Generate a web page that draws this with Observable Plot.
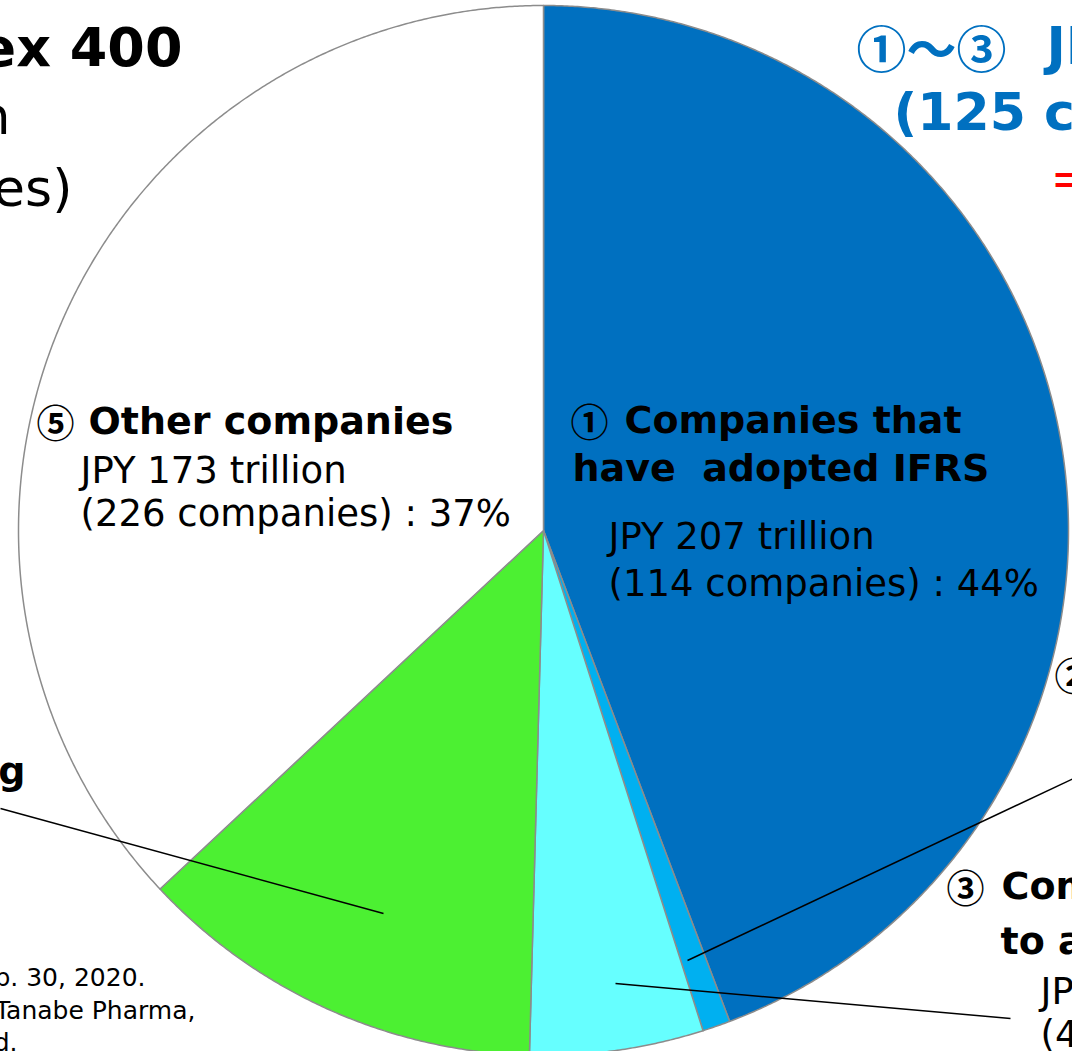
<!DOCTYPE html>
<html><head><meta charset="utf-8">
<script src="https://cdn.jsdelivr.net/npm/d3@7"></script>
<script src="https://cdn.jsdelivr.net/npm/@observablehq/plot@0.6"></script>
<style>body{margin:0;background:#fff;} svg{display:block;}</style>
</head><body><div id="chart"></div>
<script>
// ---- data ----
const categories = ["① Companies that have adopted IFRS", "② Companies that have decided to adopt IFRS", "③ Companies planning to adopt IFRS", "④ Companies considering adopting IFRS", "⑤ Other companies"];
const marketCapTrillion = [207, 4, 25, 59, 173];
const companyCounts = [114, 7, 4, 49, 226];
const sliceColors = ["#0070C0", "#00B0F0", "#66FFFF", "#4CF032", "#FFFFFF"];

// ---- geometry helpers (pixel -> data units of the pie frame) ----
const CX = 543, CY = 530, R = 525;
const X = px => (px - CX) / R;
const Y = py => (CY - py) / R;

const arcs = d3.pie().sort(null).value(d => d)(marketCapTrillion);
const slicePts = [];
arcs.forEach((a, i) => {
  slicePts.push({k: i, x: 0, y: 0, c: sliceColors[i]});
  const n = Math.max(2, Math.ceil((a.endAngle - a.startAngle) / 0.005));
  for (let j = 0; j <= n; j++) {
    const t = a.startAngle + (a.endAngle - a.startAngle) * j / n;
    slicePts.push({k: i, x: Math.sin(t), y: Math.cos(t), c: sliceColors[i]});
  }
});

const FONT = "DejaVu Sans, Verdana, sans-serif";
const CJK = "Noto Sans CJK JP, sans-serif";
function label(rows, o) {
  return Plot.text(rows, {
    x: d => X(d.px), y: d => Y(d.py), text: "t",
    textAnchor: o.anchor || "start", lineAnchor: "bottom",
    fontSize: o.size, fontWeight: o.weight || "normal",
    fill: o.color || "black", fontFamily: o.font || FONT
  });
}

const titleBold = [{px: 182, py: 65, t: "JPX-Nikkei Index 400"}];
const titleNormal = [{px: 10, py: 133, t: "Market capitalization"}, {px: 72, py: 205, t: "(400 companies)"}];
const blueMarks = [{px: 856, py: 67, t: "①～③"}];
const blueHead = [{px: 1046, py: 63, t: "JPY 236 trillion"}, {px: 893, py: 129, t: "(125 companies) : 50%"}];
const redNote = [{px: 1050, py: 194, t: "= about half"}];
const circled = [
  {px: 36, py: 436, t: categories[4].slice(0, 1)},
  {px: 570, py: 435, t: categories[0].slice(0, 1)},
  {px: 1054, py: 689, t: categories[1].slice(0, 1)},
  {px: 946, py: 901, t: categories[2].slice(0, 1)}
];
const boldLabels = [
  {px: 88, py: 433, t: "Other companies"},
  {px: 624, py: 432, t: "Companies that"},
  {px: 572, py: 480, t: "have  adopted IFRS"},
  {px: 1100, py: 686, t: "Companies that have decided"},
  {px: 1001, py: 898, t: "Companies planning"},
  {px: 1000, py: 953, t: "to adopt IFRS"}
];
const boldLabelsEnd = [{px: 25, py: 783, t: "④ Companies considering"}];
const normalLabels = [
  {px: 80, py: 482, t: `JPY ${marketCapTrillion[4]} trillion`},
  {px: 80, py: 525, t: `(${companyCounts[4]} companies) : 37%`},
  {px: 608, py: 548, t: `JPY ${marketCapTrillion[0]} trillion`},
  {px: 608, py: 595, t: `(${companyCounts[0]} companies) : 44%`},
  {px: 1040, py: 1003, t: `JPY ${marketCapTrillion[2]} trillion`},
  {px: 1040, py: 1046, t: `(${companyCounts[2]} companies) : 5%`}
];
const footnotes = [
  {px: 145, py: 985, t: "Note: Market capitalization as of Sep. 30, 2020."},
  {px: 195, py: 1018, t: "Excluding Mitsubishi Tanabe Pharma,"},
  {px: 17, py: 1050, t: "which was delisted."}
];
const leaders = [
  {x1: 0, y1: 808, x2: 383, y2: 913},
  {x1: 687, y1: 960, x2: 1090, y2: 770},
  {x1: 615, y1: 983, x2: 1010, y2: 1018}
];

const chart = Plot.plot({
  width: 1072, height: 1051,
  margin: 0,
  x: {domain: [-1, 1], range: [CX - R, CX + R], axis: null},
  y: {domain: [-1, 1], range: [CY + R, CY - R], axis: null},
  color: {type: "identity"},
  style: {background: "#fff", fontFamily: FONT},
  marks: [
    Plot.line(slicePts, {x: "x", y: "y", z: "k", fill: "c", stroke: "#8C8C8C", strokeWidth: 1.5, curve: "linear-closed"}),
    Plot.link(leaders, {x1: d => X(d.x1), y1: d => Y(d.y1), x2: d => X(d.x2), y2: d => Y(d.y2), stroke: "black", strokeWidth: 1.5}),
    label(titleBold, {size: 54, weight: "bold", anchor: "end"}),
    label(titleNormal, {size: 52, anchor: "end"}),
    label(blueMarks, {size: 50, weight: "bold", color: "#0070C0", font: CJK}),
    label(blueHead, {size: 52, weight: "bold", color: "#0070C0"}),
    label(redNote, {size: 48, color: "#FF0000"}),
    label(circled, {size: 38, weight: "bold", font: CJK}),
    label(boldLabels, {size: 38, weight: "bold"}),
    label(boldLabelsEnd, {size: 38, weight: "bold", anchor: "end"}),
    label(normalLabels, {size: 37}),
    label(footnotes, {size: 25, anchor: "end"})
  ]
});
document.getElementById("chart").appendChild(chart);
</script></body></html>
